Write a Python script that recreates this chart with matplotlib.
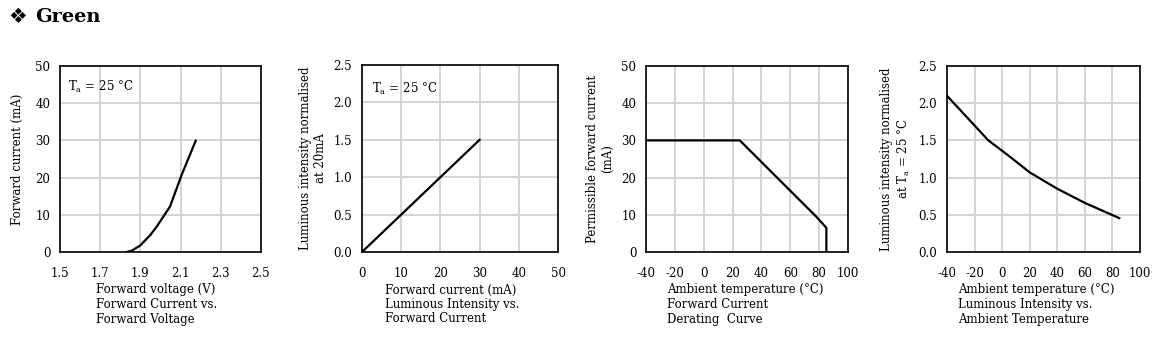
import numpy as np
import matplotlib
matplotlib.use("Agg")
import matplotlib.pyplot as plt

plt.rcParams["font.family"] = ["DejaVu Serif", "DejaVu Sans"]
plt.rcParams["mathtext.fontset"] = "dejavuserif"

# panel 1: forward current vs forward voltage
vf = [1.832, 1.857, 1.898, 1.95, 1.981, 2.047, 2.105, 2.175]
if_ma = [0.0, 0.36, 1.7, 4.6, 6.8, 12.2, 20.7, 29.9]

# panel 2: luminous intensity vs forward current
if2 = [0, 30]
lum2 = [0.0, 1.5]

# panel 3: derating curve
t3 = [-40, 25, 78, 85, 85]
i3 = [30, 30, 9.5, 6.5, 0]

# panel 4: luminous intensity vs ambient temperature
t4 = [-40, -25, -10, 5, 20, 40, 60, 85]
lum4 = [2.10, 1.80, 1.50, 1.29, 1.07, 0.85, 0.66, 0.455]

GRID = "#d4d4d4"

fig = plt.figure(figsize=(11.6, 3.43), dpi=100)
W, H = 1160, 343

def add_ax(x0, x1, y0, y1):
    return fig.add_axes([x0 / W, 1 - y1 / H, (x1 - x0) / W, (y1 - y0) / H])

def style(ax, xlim, xticks, xfmt, ylim, yticks, yfmt):
    ax.set_xlim(*xlim)
    ax.set_ylim(*ylim)
    ax.set_xticks(xticks)
    ax.set_yticks(yticks)
    ax.set_xticklabels([xfmt.format(v) for v in xticks])
    ax.set_yticklabels([yfmt.format(v) for v in yticks])
    ax.grid(True, color=GRID, lw=1.4)
    ax.set_axisbelow(True)
    ax.tick_params(length=0, labelsize=8.5)
    ax.tick_params(axis="x", pad=11)
    ax.tick_params(axis="y", pad=7)
    for s in ax.spines.values():
        s.set_linewidth(1.2)
        s.set_color("black")

def caption(lines, x_px):
    for k, ln in enumerate(lines):
        fig.text(x_px / W, 1 - (290 + k * 14.5) / H, ln, ha="left", va="center",
                 fontsize=8.5)

ax1 = add_ax(60, 261, 66, 252)
ax1.plot(vf, if_ma, color="black", lw=1.6)
style(ax1, (1.5, 2.5), [1.5, 1.7, 1.9, 2.1, 2.3, 2.5], "{:.1f}",
      (0, 50), [0, 10, 20, 30, 40, 50], "{:d}")
ax1.set_ylabel("Forward current (mA)", fontsize=8.5, labelpad=8)
ax1.text(0.04, 0.89, "T$_{\\rm a}$ = 25 °C", transform=ax1.transAxes,
         fontsize=8.5, va="center")
caption(["Forward voltage (V)", "Forward Current vs.", "Forward Voltage"], 96)

ax2 = add_ax(362, 558, 65, 252)
ax2.plot(if2, lum2, color="black", lw=1.6)
style(ax2, (0, 50), [0, 10, 20, 30, 40, 50], "{:d}",
      (0, 2.5), [0, 0.5, 1.0, 1.5, 2.0, 2.5], "{:.1f}")
ax2.set_ylabel("Luminous intensity normalised\nat 20mA", fontsize=8.5, labelpad=5)
ax2.text(0.05, 0.87, "T$_{\\rm a}$ = 25 °C", transform=ax2.transAxes,
         fontsize=8.5, va="center")
caption(["Forward current (mA)", "Luminous Intensity vs.", "Forward Current"], 385)

ax3 = add_ax(646, 848, 66, 252)
ax3.plot(t3, i3, color="black", lw=1.6)
style(ax3, (-40, 100), [-40, -20, 0, 20, 40, 60, 80, 100], "{:d}",
      (0, 50), [0, 10, 20, 30, 40, 50], "{:d}")
ax3.set_ylabel("Permissible forward current\n(mA)", fontsize=8.5, labelpad=5)
caption(["Ambient temperature (°C)", "Forward Current", "Derating  Curve"], 667)

ax4 = add_ax(947, 1140, 66, 252)
ax4.plot(t4, lum4, color="black", lw=1.6)
style(ax4, (-40, 100), [-40, -20, 0, 20, 40, 60, 80, 100], "{:d}",
      (0, 2.5), [0, 0.5, 1.0, 1.5, 2.0, 2.5], "{:.1f}")
ax4.set_ylabel("Luminous intensity normalised\nat T$_{\\rm a}$ = 25 °C", fontsize=8.5,
               labelpad=5)
caption(["Ambient temperature (°C)", "Luminous Intensity vs.", "Ambient Temperature"], 958)

fig.text(8 / W, 1 - 17 / H, "❖", fontsize=15, fontweight="bold",
         ha="left", va="center")
fig.text(35 / W, 1 - 17 / H, "Green", fontsize=14, fontweight="bold",
         ha="left", va="center")

fig.savefig("out.png", dpi=100)
